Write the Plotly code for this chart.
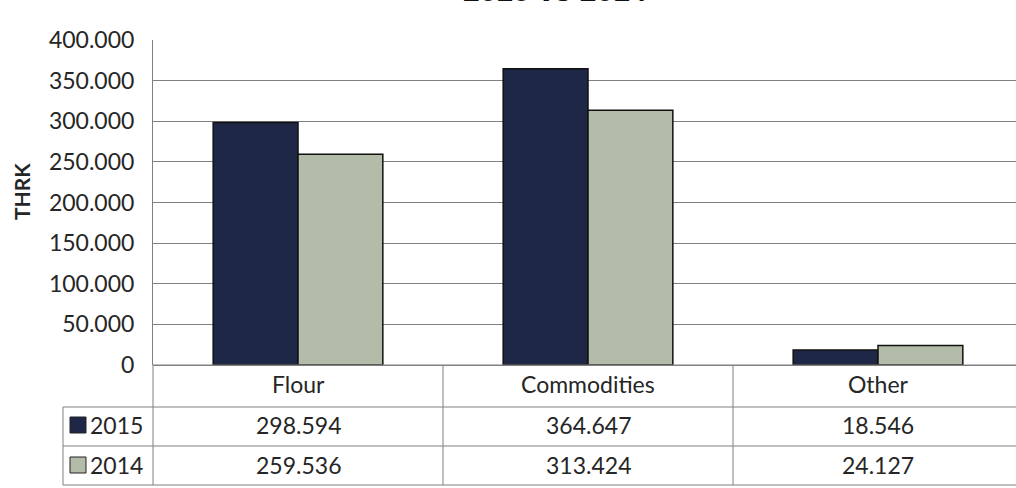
import plotly.graph_objects as go

# Sales by product group, thousands of HRK
categories = ["Flour", "Commodities", "Other"]
series_names = ["2015", "2014"]
values_2015 = [298594, 364647, 18546]
values_2014 = [259536, 313424, 24127]
y_ticks = [0, 50000, 100000, 150000, 200000, 250000, 300000, 350000, 400000]

DARK = "#1e2846"
LIGHT = "#b3bba9"
LINE = "#808080"
TXT = "#262626"
FONT = "Lato"

W, H = 1016, 488
L, T, B = 153, 40, 123          # margins in px
PW, PH = W - L, H - T - B       # plot area size
CAT_PX = 290                    # width of one category band


def py(px):
    """pixel row -> paper y"""
    return (H - B - px) / PH


def pxp(px):
    """pixel column -> paper x"""
    return (px - L) / PW


def fmt(v):
    return f"{v:,}".replace(",", ".")


fig = go.Figure()
for name, vals, col in [(series_names[0], values_2015, DARK),
                        (series_names[1], values_2014, LIGHT)]:
    fig.add_trace(go.Bar(
        x=categories, y=vals, name=name,
        marker=dict(color=col, line=dict(color="#111111", width=1.5)),
        showlegend=False,
    ))

x_hi = -0.5 + PW / CAT_PX

fig.update_layout(
    width=W, height=H,
    margin=dict(l=L, r=0, t=T, b=B, pad=0),
    paper_bgcolor="white", plot_bgcolor="white",
    barmode="group", bargap=0.415, bargroupgap=0,
    separators=",.",
    font=dict(family=FONT, size=23, color=TXT),
    xaxis=dict(range=[-0.5, x_hi], showticklabels=False, showgrid=False,
               zeroline=False, showline=False, fixedrange=True),
    yaxis=dict(range=[0, 400000], tickvals=y_ticks, tickformat=",d",
               showgrid=True, gridcolor=LINE, gridwidth=1,
               zeroline=True, zerolinecolor=LINE, zerolinewidth=1,
               showline=True, linecolor=LINE, linewidth=1,
               ticks="", ticklabelstandoff=13,
               tickfont=dict(family=FONT, size=23, color=TXT)),
)

# data table under the plot
row_y = [H - B, 407, 446, 485]
shapes = []
# horizontal rules
shapes.append(dict(type="line", xref="paper", yref="paper",
                   x0=0, x1=1, y0=py(row_y[0]), y1=py(row_y[0]),
                   line=dict(color=LINE, width=1)))
for ry in row_y[1:]:
    shapes.append(dict(type="line", xref="paper", yref="paper",
                       x0=pxp(63), x1=1, y0=py(ry), y1=py(ry),
                       line=dict(color=LINE, width=1)))
# vertical rules
shapes.append(dict(type="line", xref="paper", yref="paper",
                   x0=0, x1=0, y0=py(row_y[0]), y1=py(row_y[3]),
                   line=dict(color=LINE, width=1)))
shapes.append(dict(type="line", xref="paper", yref="paper",
                   x0=pxp(63), x1=pxp(63), y0=py(row_y[1]), y1=py(row_y[3]),
                   line=dict(color=LINE, width=1)))
for i in range(len(categories) - 1):
    shapes.append(dict(type="line", xref="x", yref="paper",
                       x0=i + 0.5, x1=i + 0.5, y0=py(row_y[0]), y1=py(row_y[3]),
                       line=dict(color=LINE, width=1)))

annotations = []
for i, c in enumerate(categories):
    annotations.append(dict(x=i, y=py(384), xref="x", yref="paper", text=c,
                            showarrow=False, xanchor="center", yanchor="middle",
                            font=dict(family=FONT, size=23, color=TXT)))

# one table row per series: legend key, series name, values
rows = [(series_names[0], values_2015, DARK, 425),
        (series_names[1], values_2014, LIGHT, 465)]
for name, vals, col, cy in rows:
    for i, v in enumerate(vals):
        annotations.append(dict(x=i, y=py(cy), xref="x", yref="paper", text=fmt(v),
                                showarrow=False, xanchor="center", yanchor="middle",
                                font=dict(family=FONT, size=23, color=TXT)))
    shapes.append(dict(type="rect", xref="paper", yref="paper",
                       x0=pxp(70), x1=pxp(86), y0=py(cy - 8), y1=py(cy + 8),
                       fillcolor=col, line=dict(color="#222222", width=1)))
    annotations.append(dict(x=pxp(88), y=py(cy), xref="paper", yref="paper",
                            text=name, showarrow=False, xanchor="left",
                            yanchor="middle",
                            font=dict(family=FONT, size=23, color=TXT)))

# axis title
annotations.append(dict(x=pxp(21), y=py(192), xref="paper", yref="paper",
                        text="<b>THRK</b>", textangle=-90, showarrow=False,
                        xanchor="center", yanchor="middle",
                        font=dict(family=FONT, size=21, color=TXT)))
# chart title (sits at the very top edge of the figure)
annotations.append(dict(x=pxp(555), y=py(9), xref="paper", yref="paper",
                        text="<b>2015 vs 2014</b>", showarrow=False,
                        xanchor="center", yanchor="bottom",
                        font=dict(family="Liberation Sans", size=30, color="#111111")))

fig.update_layout(shapes=shapes, annotations=annotations)
fig.write_html("out.html")
